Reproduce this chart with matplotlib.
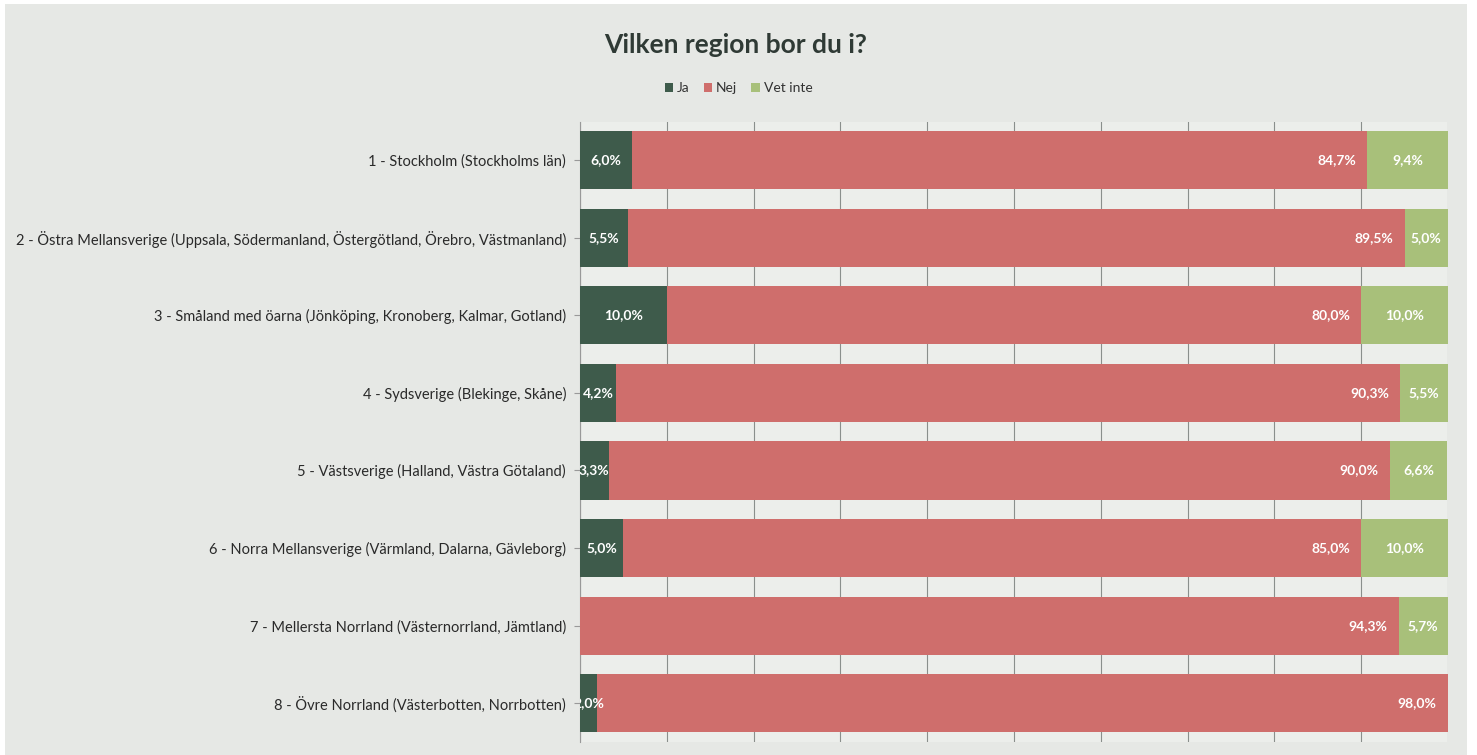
import matplotlib
matplotlib.use("Agg")
import matplotlib.pyplot as plt
from matplotlib.patches import Rectangle
import numpy as np

categories = [
    "1 - Stockholm (Stockholms län)",
    "2 - Östra Mellansverige (Uppsala, Södermanland, Östergötland, Örebro, Västmanland)",
    "3 - Småland med öarna (Jönköping, Kronoberg, Kalmar, Gotland)",
    "4 - Sydsverige (Blekinge, Skåne)",
    "5 - Västsverige (Halland, Västra Götaland)",
    "6 - Norra Mellansverige (Värmland, Dalarna, Gävleborg)",
    "7 - Mellersta Norrland (Västernorrland, Jämtland)",
    "8 - Övre Norrland (Västerbotten, Norrbotten)",
]
ja = [6.0, 5.5, 10.0, 4.2, 3.3, 5.0, 0.0, 2.0]
nej = [84.7, 89.5, 80.0, 90.3, 90.0, 85.0, 94.3, 98.0]
vet_inte = [9.4, 5.0, 10.0, 5.5, 6.6, 10.0, 5.7, 0.0]
series_names = ["Ja", "Nej", "Vet inte"]
colors = ["#3e5b4b", "#cf6e6c", "#a8c07a"]

plt.rcParams['font.family'] = ['Lato', 'DejaVu Sans']

fig = plt.figure(figsize=(14.77, 7.55), dpi=100, facecolor="white")
fig.patches.append(Rectangle((5/1477, 0), (1467-5)/1477, 1 - 4/755,
                             transform=fig.transFigure, facecolor="#e6e8e5",
                             edgecolor="none", zorder=-10))
ax = fig.add_axes([580/1477, 1 - 742/755, (1448-580)/1477, (742-122)/755])
ax.set_facecolor("#eceeeb")

y = np.arange(len(categories))
h = 0.75
left = np.zeros(len(categories))
for vals, name, col in zip([ja, nej, vet_inte], series_names, colors):
    vals = np.array(vals)
    ax.barh(y, vals, left=left, height=h, color=col, label=name, zorder=3)
    for i, v in enumerate(vals):
        if v <= 0:
            continue
        txt = f"{v:.1f}%".replace(".", ",")
        if name == "Nej":
            ax.text(left[i] + v - 1.3, y[i], txt, ha="right", va="center",
                    color="white", fontsize=10, fontweight="bold", zorder=4, clip_on=True)
        else:
            ax.text(left[i] + v / 2, y[i], txt, ha="center", va="center",
                    color="white", fontsize=10, fontweight="bold", zorder=4, clip_on=True)
    left += vals

ax.set_xlim(0, 100)
ax.set_ylim(7.5, -0.49)
ax.set_xticks(np.arange(0, 101, 10))
ax.set_xticklabels([])
ax.tick_params(axis="x", length=0)
ax.grid(axis="x", color="#8a8f8c", linewidth=0.8, zorder=1)
ax.set_yticks(y)
ax.set_yticklabels(categories, fontsize=10.5, color="#2a2a2a")
ax.tick_params(axis="y", length=4, color="#999999", pad=6)
for s in ["top", "right", "bottom"]:
    ax.spines[s].set_visible(False)
ax.spines["left"].set_color("#999999")

fig.text(0.498, 1 - 45/755, "Vilken region bor du i?", ha="center", va="center",
         fontsize=19, fontweight="bold", color="#2f3a35")
fig.legend(loc="center", bbox_to_anchor=(0.5, 1 - 88/755), ncol=3, frameon=False,
           fontsize=10, handlelength=0.6, handleheight=0.6, handletextpad=0.3,
           columnspacing=1.0, labelcolor="#333333")

fig.savefig("out.png", dpi=100, facecolor=fig.get_facecolor())
